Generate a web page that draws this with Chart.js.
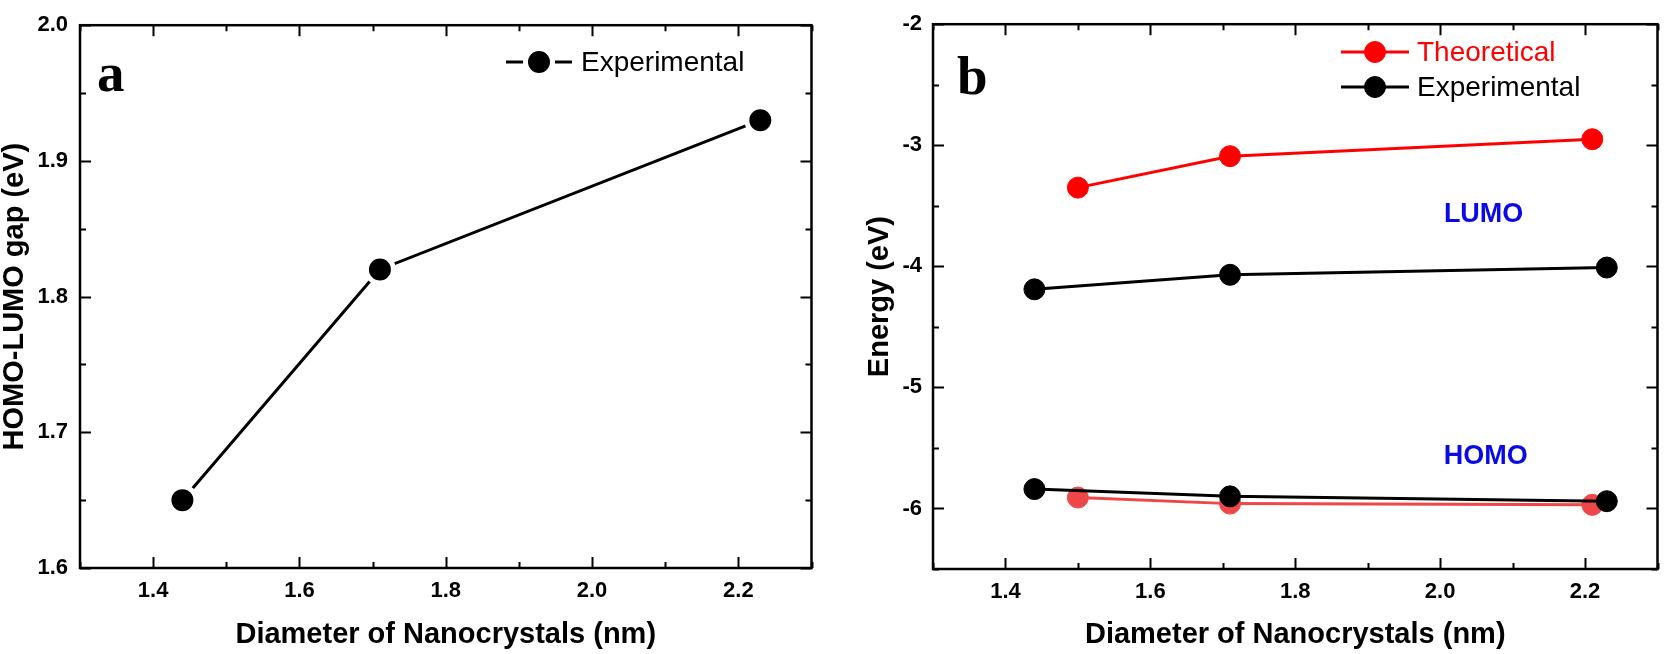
<!DOCTYPE html>
<html lang="en">
<head>
<meta charset="UTF-8">
<title>HOMO-LUMO gap and energy levels vs nanocrystal diameter</title>
<script src="https://cdn.jsdelivr.net/npm/chart.js"></script>
<style>
  html, body { margin: 0; padding: 0; background: #fff; }
  body { width: 1669px; height: 654px; position: relative; overflow: hidden; }
  canvas { position: absolute; top: 0; }
  #chartA { left: 0; }
  #chartB { left: 840px; }
</style>
</head>
<body>
<canvas id="chartA" width="830" height="654"></canvas>
<canvas id="chartB" width="829" height="654"></canvas>
<script>
// panel a: experimental HOMO-LUMO gap
const gapDiameter = [1.44, 1.71, 2.23];
const gapExp = [1.65, 1.82, 1.93];

// panel b: LUMO / HOMO energies
const theoDiameter = [1.50, 1.71, 2.21];
const expDiameter = [1.44, 1.71, 2.23];
const lumoTheo = [-3.35, -3.09, -2.95];
const lumoExp = [-4.19, -4.07, -4.01];
const homoTheo = [-5.91, -5.96, -5.97];
const homoExp = [-5.84, -5.90, -5.94];

// axis ticks
const xTicks = [1.4, 1.6, 1.8, 2.0, 2.2];
const xMinor = [1.3, 1.5, 1.7, 1.9, 2.1, 2.3];
const gapTicks = [1.6, 1.7, 1.8, 1.9, 2.0];
const gapMinor = [1.65, 1.75, 1.85, 1.95];
const energyTicks = [-6, -5, -4, -3, -2];
const energyMinor = [-6.5, -5.5, -4.5, -3.5, -2.5];

const SANS = '"Liberation Sans", Arial, sans-serif';
const SERIF = '"Liberation Serif", "Times New Roman", serif';

function pts(xs, ys) {
  return xs.map((x, i) => ({ x: x, y: ys[i] }));
}

// frame with inward ticks on all four sides, legend and text labels
const frameTicks = {
  id: 'frameTicks',
  afterDatasetsDraw(chart, args, opts) {
    const { ctx, chartArea: a, scales: { x, y } } = chart;
    ctx.save();
    ctx.strokeStyle = '#000';
    ctx.lineWidth = 2.5;
    ctx.lineCap = 'butt';
    ctx.strokeRect(a.left, a.top, a.right - a.left, a.bottom - a.top);

    const xMarks = (vals, len) => vals.forEach(v => {
      const px = Math.round(x.getPixelForValue(v)) + 0.5;
      ctx.beginPath();
      ctx.moveTo(px, a.bottom); ctx.lineTo(px, a.bottom - len);
      ctx.moveTo(px, a.top); ctx.lineTo(px, a.top + len);
      ctx.stroke();
    });
    const yMarks = (vals, len) => vals.forEach(v => {
      const py = Math.round(y.getPixelForValue(v)) + 0.5;
      ctx.beginPath();
      ctx.moveTo(a.left, py); ctx.lineTo(a.left + len, py);
      ctx.moveTo(a.right, py); ctx.lineTo(a.right - len, py);
      ctx.stroke();
    });
    ctx.lineWidth = 2;
    xMarks(xTicks, 11);
    xMarks(xMinor, 6);
    yMarks(opts.yMajor, 11);
    yMarks(opts.yMinor, 6);

    // legend
    const lg = opts.legend;
    lg.rows.forEach((di, r) => {
      const ds = chart.data.datasets[di];
      const cy = lg.y + r * lg.rowHeight;
      ctx.strokeStyle = ds.borderColor;
      ctx.lineWidth = 3;
      ctx.beginPath();
      ctx.moveTo(lg.x - lg.half, cy); ctx.lineTo(lg.x + lg.half, cy);
      ctx.stroke();
      ctx.beginPath();
      ctx.arc(lg.x, cy, ds.pointRadius, 0, Math.PI * 2);
      ctx.fillStyle = ds.pointBackgroundColor;
      ctx.fill();
      ctx.lineWidth = ds.pointBorderWidth;
      ctx.strokeStyle = ds.pointBorderColor;
      ctx.stroke();
      ctx.fillStyle = ds.borderColor;
      ctx.font = '28px ' + SANS;
      ctx.textAlign = 'left';
      ctx.textBaseline = 'middle';
      ctx.fillText(ds.label, lg.x + lg.textGap, cy + 1);
    });

    // panel letter
    ctx.fillStyle = '#000';
    ctx.font = 'bold 55px ' + SERIF;
    ctx.textAlign = 'left';
    ctx.textBaseline = 'alphabetic';
    ctx.fillText(opts.letter.text, a.left + opts.letter.dx, a.top + opts.letter.dy);

    // level labels at data positions
    (opts.notes || []).forEach(n => {
      ctx.fillStyle = n.color;
      ctx.font = 'bold 27px ' + SANS;
      ctx.textAlign = 'center';
      ctx.textBaseline = 'middle';
      ctx.fillText(n.text, x.getPixelForValue(n.xv), y.getPixelForValue(n.yv));
    });
    ctx.restore();
  }
};

function xAxis(h) {
  return {
    type: 'linear', min: 1.3, max: 2.3,
    afterBuildTicks: s => { s.ticks = xTicks.map(v => ({ value: v })); },
    afterFit: s => { s.height = h; },
    grid: { display: false, drawTicks: false },
    border: { display: false },
    ticks: {
      callback: v => v.toFixed(1), color: '#000', padding: 10,
      font: { family: SANS, size: 22, weight: 'bold' }, maxRotation: 0, autoSkip: false
    },
    title: {
      display: true, text: 'Diameter of Nanocrystals (nm)', color: '#000',
      font: { family: SANS, size: 29, weight: 'bold', lineHeight: 1 },
      padding: { top: 0, bottom: 4.5 }
    }
  };
}

function yAxis(min, max, ticks, fmt, w, pad, title, titlePad) {
  return {
    type: 'linear', min: min, max: max,
    afterBuildTicks: s => { s.ticks = ticks.map(v => ({ value: v })); },
    afterFit: s => { s.width = w; },
    grid: { display: false, drawTicks: false },
    border: { display: false },
    ticks: {
      callback: fmt, color: '#000', padding: pad,
      font: { family: SANS, size: 22, weight: 'bold' }, autoSkip: false
    },
    title: {
      display: true, text: title, color: '#000',
      font: { family: SANS, size: 29, weight: 'bold', lineHeight: 1 },
      padding: { top: titlePad, bottom: 0 }
    }
  };
}

new Chart(document.getElementById('chartA'), {
  type: 'line',
  data: {
    datasets: [{
      label: 'Experimental',
      data: pts(gapDiameter, gapExp),
      borderColor: '#000', borderWidth: 3,
      pointRadius: 13.5, pointBorderWidth: 5,
      pointBackgroundColor: '#000', pointBorderColor: '#fff',
      tension: 0
    }]
  },
  options: {
    responsive: false, animation: false,
    layout: { padding: { top: 13, right: 18, left: 0, bottom: 0 } },
    scales: {
      x: xAxis(86),
      y: yAxis(1.6, 2.0, gapTicks, v => v.toFixed(1), 80, 12, 'HOMO-LUMO gap (eV)', 0)
    },
    plugins: {
      legend: { display: false }, tooltip: { enabled: false },
      frameTicks: {
        yMajor: gapTicks, yMinor: gapMinor,
        legend: { x: 539, y: 62, rowHeight: 0, half: 33, textGap: 42, rows: [0] },
        letter: { text: 'a', dx: 17, dy: 66 }
      }
    }
  },
  plugins: [frameTicks]
});

const RED = '#ff0000';
const RED_LIGHT = '#ef4747';

new Chart(document.getElementById('chartB'), {
  type: 'line',
  data: {
    datasets: [{
      label: 'Experimental',
      data: pts(expDiameter, homoExp),
      borderColor: '#000', borderWidth: 3,
      pointRadius: 10.5, pointBorderWidth: 1,
      pointBackgroundColor: '#000', pointBorderColor: '#000'
    }, {
      label: 'Experimental',
      data: pts(expDiameter, lumoExp),
      borderColor: '#000', borderWidth: 3,
      pointRadius: 10.5, pointBorderWidth: 1,
      pointBackgroundColor: '#000', pointBorderColor: '#000'
    }, {
      label: 'Theoretical',
      data: pts(theoDiameter, lumoTheo),
      borderColor: RED, borderWidth: 3,
      pointRadius: 10.5, pointBorderWidth: 1,
      pointBackgroundColor: RED, pointBorderColor: RED
    }, {
      label: 'Theoretical',
      data: pts(theoDiameter, homoTheo),
      borderColor: RED_LIGHT, borderWidth: 3,
      pointRadius: 10.5, pointBorderWidth: 1,
      pointBackgroundColor: RED_LIGHT, pointBorderColor: RED_LIGHT
    }]
  },
  options: {
    responsive: false, animation: false,
    layout: { padding: { top: 13, right: 4, left: 0, bottom: 0 } },
    scales: {
      x: xAxis(85),
      y: yAxis(-6.5, -2, energyTicks, v => String(v), 93, 11, 'Energy (eV)', 25.5)
    },
    plugins: {
      legend: { display: false }, tooltip: { enabled: false },
      frameTicks: {
        yMajor: energyTicks, yMinor: energyMinor,
        legend: { x: 535, y: 52, rowHeight: 35, half: 34, textGap: 42, rows: [2, 0] },
        letter: { text: 'b', dx: 24, dy: 70 },
        notes: [
          { text: 'LUMO', xv: 2.06, yv: -3.57, color: '#0a0ae6' },
          { text: 'HOMO', xv: 2.063, yv: -5.57, color: '#0a0ae6' }
        ]
      }
    }
  },
  plugins: [frameTicks]
});
</script>
</body>
</html>
